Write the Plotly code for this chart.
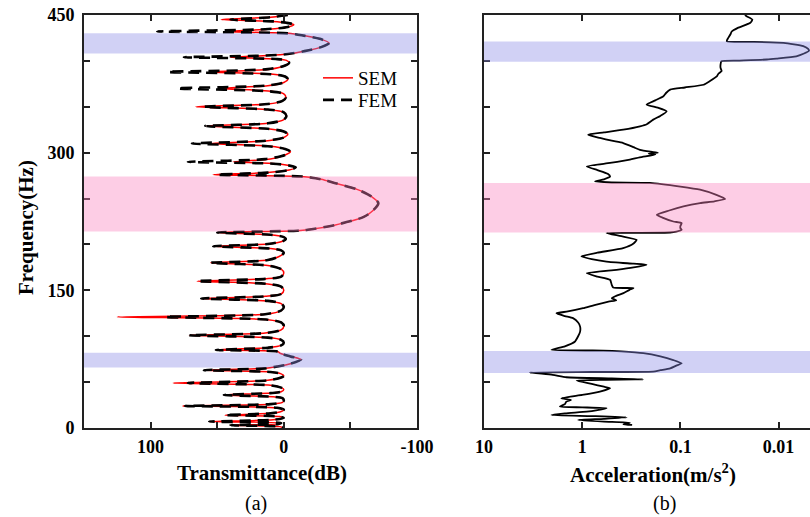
import plotly.graph_objects as go

# ---------------- data: panel (a) transmittance ----------------
trans_freq = [450, 447.5, 445, 443, 441.5, 439.5, 437, 434.5, 432, 430, 427.5, 424, 419.5, 415, 410.5, 407.5,
              405.8, 404, 402, 400.5, 398, 395, 391, 388, 385.5, 383, 380, 376.5, 373, 370, 367, 364, 360,
              356.5, 353, 350, 347, 344, 340, 336, 332, 329, 326, 323, 320, 316.5, 313, 310, 307, 304, 301,
              297.5, 293, 290, 288, 286, 284, 281, 278.3, 276, 274, 271, 267, 260, 252, 245, 237, 230, 221,
              216, 215, 213, 210.5, 208.5, 206, 203.5, 200.5, 198, 195.5, 193.5, 191, 188, 183, 180, 177, 173,
              169, 165, 162.5, 160, 157, 154, 150, 146, 143.5, 141, 138.5, 135.5, 132, 128, 124, 121, 118, 115,
              111, 107, 103.5, 101, 98.5, 96, 93, 90, 87.5, 85, 83, 81.5, 78, 74.5, 70, 67, 65, 63, 61, 59, 57,
              55, 52, 49, 46.5, 44, 42, 39.5, 38, 36, 34, 32.5, 30, 28, 26, 24, 22, 20, 17.5, 16, 14, 12.5, 11,
              9, 7, 5.5, 4.5, 3, 1.5, 0]
sem_db = [-3, 10, 47, 8, -2, -7.5, -3, 12, 45, -3, -15, -27, -34, -28, -15, -3,
          12, 40, 6, -2, -4, -1, 10, 55, 8, -1, -3, 0, 12, 47, 10, 0, -1.5,
          1, 12, 66, 12, 0, -2, 0, 12, 58, 12, 0, -3, 0, 12, 55, 10, -1, -5,
          -1, 10, 38, 6, -4, -9, -4, 12, 53, -13, -28, -38, -55, -66, -71, -67, -60, -38,
          -18, -10, 50, 10, 1, -1.5, 1, 12, 53, 10, 2, 0, 2, 12, 55, 12, 2,
          0, 2, 14, 65, 12, 2, 0, 2, 14, 62, 12, 2, 0, 2, 14, 125, 12, 2,
          0, 2, 14, 71, 12, 2, 0, 2, 12, 51, 4, 3, -5, -13, -5, 5, 14, 60, 10, 2, 0,
          2, 12, 83, 10, 2, 0, 2, 10, 45, 8, 1, 0, 1, 10, 76, 5, 0, 3, 10, 44, 3, 0,
          8, 56, 2, 4, 40, 3, 0]
fem_db = [-3, 10, 40, 8, -2, -7.5, -3, 14, 95, -3, -15, -27, -34, -28, -15, -3,
          14, 75, 6, -2, -4, -1, 12, 87, 10, -1, -3, 0, 14, 80, 12, 0, -1.5,
          1, 12, 60, 12, 0, -2, 0, 12, 59, 12, 0, -3, 0, 14, 69, 12, -1, -5,
          -1, 14, 72, 8, -4, -9, -4, 12, 50, -13, -28, -38, -55, -66, -71, -67, -60, -38,
          -18, -10, 50, 10, 1, -1.5, 1, 12, 53, 10, 2, 0, 2, 12, 55, 12, 2,
          0, 2, 14, 65, 12, 2, 0, 2, 14, 62, 12, 2, 0, 2, 14, 89, 12, 2,
          0, 2, 14, 71, 12, 2, 0, 2, 12, 51, 4, 3, -5, -13, -5, 5, 14, 60, 10, 2, 0,
          2, 12, 72, 10, 2, 0, 2, 10, 45, 8, 1, 0, 1, 10, 74, 5, 0, 3, 10, 44, 3, 0,
          8, 56, 2, 4, 40, 3, 0]

# ---------------- data: panel (b) acceleration ----------------
acc_freq = [450, 448.7, 445, 441.5, 436, 432, 428.7, 424, 421.4, 420.8, 419.6, 416, 413, 411, 408, 405,
            402.5, 401.5, 400.3, 399.6, 396, 392.4, 389, 386, 383, 378, 374, 371, 368.7, 365, 361.4, 357,
            352.4, 349, 345, 340, 336, 331, 328.7, 325, 322, 319.6, 316, 313, 310.5, 306, 303, 301, 300,
            299, 298, 295, 292.4, 288.8, 285, 281, 277, 274, 271, 268.7, 267.5, 267, 263, 259.6, 254,
            249.5, 247, 245, 241.4, 237, 232.4, 229, 225, 223.3, 220, 217.8, 216, 214, 213, 212.6, 212.4,
            209, 205, 201, 196, 191, 187, 184, 181.4, 179, 177.8, 175, 172.4, 168.7, 165, 161.5, 156, 153,
            152.4, 150.5, 147, 144, 141.5, 139, 137.8, 134, 130.6, 127, 125, 122, 119.7, 115, 110.5, 105,
            100, 94, 89, 85, 84.4, 83.5, 81.5, 78, 74, 70.5, 68, 65, 63, 61.5, 61, 60.4, 58, 55.3, 54, 53,
            52.5, 51.6, 48, 45, 43.3, 39.6, 36, 32.4, 30.5, 28.7, 26, 23.3, 22.5, 21.5, 19.5, 17.8, 16,
            14.2, 13, 11.6, 10, 8.7, 7, 5.8, 4, 3.3]
acc_val = [0.022, 0.0212, 0.0185, 0.0194, 0.026, 0.030, 0.031, 0.033, 0.0337, 0.02, 0.0089, 0.0056, 0.0050,
           0.0049, 0.0055, 0.0066, 0.0105, 0.0132, 0.025, 0.0382, 0.039, 0.039, 0.038, 0.041, 0.0426, 0.05,
           0.058, 0.09, 0.127, 0.14, 0.149, 0.18, 0.221, 0.17, 0.138, 0.16, 0.189, 0.22, 0.258, 0.382, 0.6,
           0.87, 0.66, 0.5, 0.382, 0.3, 0.258, 0.2, 0.17, 0.21, 0.18, 0.26, 0.327, 0.52, 0.90, 0.7, 0.55,
           0.52, 0.6, 0.74, 0.5, 0.204, 0.1, 0.063, 0.043, 0.035, 0.045, 0.063, 0.093, 0.13, 0.174, 0.15,
           0.118, 0.097, 0.1, 0.1, 0.097, 0.11, 0.127, 0.3, 0.565, 0.4, 0.279, 0.3, 0.382, 0.7, 1.02, 0.8,
           0.565, 0.3, 0.221, 0.3, 0.447, 0.90, 0.7, 0.52, 0.5, 0.483, 0.30, 0.33, 0.38, 0.45, 0.50, 0.45,
           0.54, 0.75, 0.98, 1.4, 1.83, 1.5, 1.24, 1.1, 1.05, 1.05, 1.1, 1.19, 1.5, 2.06, 0.61, 0.4, 0.239,
           0.16, 0.118, 0.097, 0.11, 0.127, 0.16, 0.189, 0.8, 3.42, 2.0, 1.45, 0.5, 0.239, 0.6, 1.14, 0.8,
           0.6, 0.52, 0.66, 1.0, 1.63, 1.3, 1.45, 1.5, 1.69, 1.0, 0.565, 0.7, 0.90, 1.5, 2.06, 0.8, 0.353,
           0.6, 1.1, 0.6, 0.327, 0.38, 0.31]

# band-gap ranges (Hz)
bands_a = [(408, 430, "blue"), (214, 274, "pink"), (66, 82, "blue")]
bands_b = [(399, 421, "blue"), (213, 267, "pink"), (60, 84, "blue")]

freq_ticks = [0, 50, 100, 150, 200, 250, 300, 350, 400, 450]
freq_labels = ["0", "", "", "150", "", "", "300", "", "", "450"]
trans_ticks = [100, 50, 0, -50, -100]
trans_labels = ["100", "", "0", "", "-100"]
acc_ticks = [10, 1, 0.1, 0.01]
acc_labels = ["10", "1", "0.1", "0.01"]

# ---------------- layout helpers ----------------
W, H = 810, 517
def px(x):
    return x / W
def py(y):
    return 1 - y / H

FONT = "Liberation Serif"
band_color = {"blue": "rgba(140,140,230,0.4)", "pink": "rgba(250,130,190,0.4)"}

fig = go.Figure()

fig.add_trace(go.Scatter(x=sem_db, y=trans_freq, mode="lines", name="SEM", legend="legend",
                         line=dict(color="#ff0000", width=1.5, shape="spline", smoothing=0.8),
                         xaxis="x", yaxis="y"))
fig.add_trace(go.Scatter(x=fem_db, y=trans_freq, mode="lines", name="FEM", legend="legend2",
                         line=dict(color="black", width=2.6, dash="11px,7px", shape="spline", smoothing=0.8),
                         xaxis="x", yaxis="y"))
fig.add_trace(go.Scatter(x=acc_val, y=acc_freq, mode="lines", showlegend=False,
                         line=dict(color="black", width=1.8, shape="spline", smoothing=0.5),
                         xaxis="x2", yaxis="y2"))

shapes = []
for lo, hi, c in bands_a:
    shapes.append(dict(type="rect", xref="x domain", yref="y", x0=0, x1=1, y0=lo, y1=hi,
                       fillcolor=band_color[c], line=dict(width=0), layer="above"))
for lo, hi, c in bands_b:
    shapes.append(dict(type="rect", xref="x2 domain", yref="y2", x0=0, x1=1, y0=lo, y1=hi,
                       fillcolor=band_color[c], line=dict(width=0), layer="above"))

tickfont = dict(family=FONT, size=18, color="black", weight="bold")
common = dict(showline=True, linewidth=2, linecolor="#222", ticks="inside", ticklen=6, tickwidth=1.5,
              tickcolor="#222", showgrid=False, zeroline=False, tickfont=tickfont, automargin=False)

x0a, x1a = px(84), px(417)
x0b, x1b = px(484), 1.0
yb0, yb1 = py(428), py(15)

def ann(text, x, y, size, angle=0):
    return dict(text=text, x=px(x), y=py(y), xref="paper", yref="paper", textangle=angle,
                xanchor="center", yanchor="middle", showarrow=False,
                font=dict(family=FONT, size=size, color="black"))

legend_style = dict(xanchor="left", yanchor="middle", bgcolor="rgba(0,0,0,0)", borderwidth=0,
                    font=dict(family=FONT, size=19, color="black"))

fig.update_layout(
    width=W, height=H, margin=dict(l=0, r=0, t=0, b=0, autoexpand=False),
    paper_bgcolor="white", plot_bgcolor="white",
    shapes=shapes,
    xaxis=dict(domain=[x0a, x1a], range=[150, -100], tickvals=trans_ticks, ticktext=trans_labels,
               mirror="ticks", anchor="y", ticklabelstandoff=1, **common),
    yaxis=dict(domain=[yb0, yb1], range=[0, 450], tickvals=freq_ticks, ticktext=freq_labels,
               mirror="ticks", anchor="x", ticklabelstandoff=4, **common),
    xaxis2=dict(domain=[x0b, x1b], type="log", range=[1, -2.32], tickvals=acc_ticks, ticktext=acc_labels,
                mirror="ticks", anchor="y2", ticklabelstandoff=1, **common),
    yaxis2=dict(domain=[yb0, yb1], range=[0, 450], tickvals=freq_ticks, showticklabels=False,
                anchor="x2", **common),
    legend=dict(x=px(318), y=py(78), **legend_style),
    legend2=dict(x=px(318), y=py(100), **legend_style),
    annotations=[
        ann("<b>Frequency(Hz)</b>", 26, 228, 21, -90),
        ann("<b>Transmittance(dB)</b>", 262, 473, 21),
        ann("(a)", 256, 503, 20),
        ann("<b>Acceleration(m/s<sup>2</sup>)</b>", 653, 473, 21),
        ann("(b)", 664, 503, 20),
    ],
)

fig.write_html("out.html")
